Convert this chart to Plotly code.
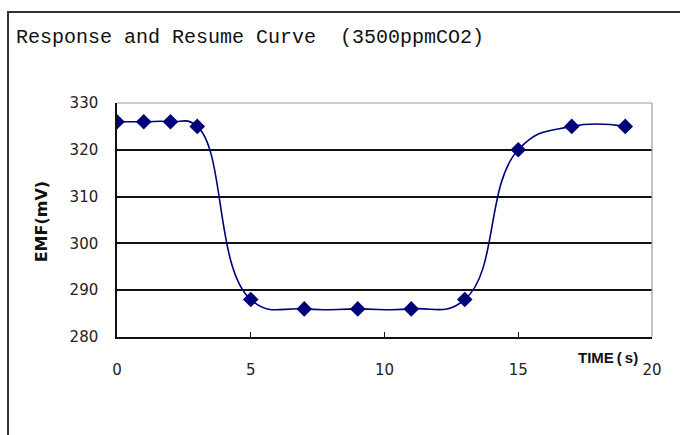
import plotly.graph_objects as go

# Sensor response and recovery at 3500 ppm CO2
time_s = [0, 1, 2, 3, 5, 7, 9, 11, 13, 15, 17, 19]
emf_mv = [326, 326, 326, 325, 288, 286, 286, 286, 288, 320, 325, 325]

x_ticks = [0, 5, 10, 15, 20]
y_ticks = [280, 290, 300, 310, 320, 330]

title_text = "Response and Resume Curve\u00a0\u00a0(3500ppmCO2)"
x_label = "TIME\u2009(\u2009s)"
y_label = "EMF(mV)"

NAVY = "#00007a"

fig = go.Figure()
fig.add_trace(go.Scatter(
    x=time_s, y=emf_mv,
    mode="lines+markers",
    line=dict(color=NAVY, width=1.6, shape="spline", smoothing=1.3),
    marker=dict(symbol="diamond", size=12, color=NAVY),
    showlegend=False,
    hoverinfo="x+y",
))

tick_font = dict(family="DejaVu Sans", size=15, color="#222")

fig.update_layout(
    width=680, height=435,
    margin=dict(l=117, r=28, t=103, b=98),
    paper_bgcolor="white", plot_bgcolor="white",
    xaxis=dict(
        range=[0, 20], tickvals=x_ticks, showgrid=False, zeroline=False,
        showline=True, linecolor="#111", linewidth=1.5,
        ticks="inside", ticklen=5, tickcolor="#111", tickwidth=1.2,
        ticklabelstandoff=18, tickfont=tick_font,
    ),
    yaxis=dict(
        range=[280, 330], tickvals=y_ticks, showgrid=True, gridcolor="#111",
        gridwidth=1.5, zeroline=False,
        showline=True, linecolor="#111", linewidth=1.5,
        ticks="", ticklabelstandoff=14, tickfont=tick_font,
    ),
)

# frame: grey top and right edges of the plot area
fig.add_shape(type="line", xref="paper", yref="paper", x0=0, x1=1, y0=1, y1=1,
              line=dict(color="#9a9a9a", width=1.2))
fig.add_shape(type="line", xref="paper", yref="paper", x0=1, x1=1, y0=0, y1=1,
              line=dict(color="#9a9a9a", width=1.2))

# outer chart border
fig.add_shape(type="rect", xref="paper", yref="paper",
              x0=-0.2037, x1=1.08, y0=-0.5, y1=1.389,
              line=dict(color="#333", width=2), layer="below")

fig.add_annotation(text=title_text, xref="paper", yref="paper",
                   x=-0.1925, y=1.2778, xanchor="left", yanchor="middle",
                   showarrow=False,
                   font=dict(family="Liberation Mono", size=20, color="#111"))

fig.add_annotation(text=f"<b>{x_label}</b>", xref="paper", yref="paper",
                   x=0.978, y=-0.088, xanchor="right", yanchor="middle",
                   showarrow=False,
                   font=dict(family="Liberation Sans", size=15, color="#111"))

fig.add_annotation(text=f"<b>{y_label}</b>", xref="paper", yref="paper",
                   x=-0.142, y=0.49, xanchor="center", yanchor="middle",
                   textangle=-90, showarrow=False,
                   font=dict(family="DejaVu Sans", size=16, color="#111"))

fig.write_html("out.html")
